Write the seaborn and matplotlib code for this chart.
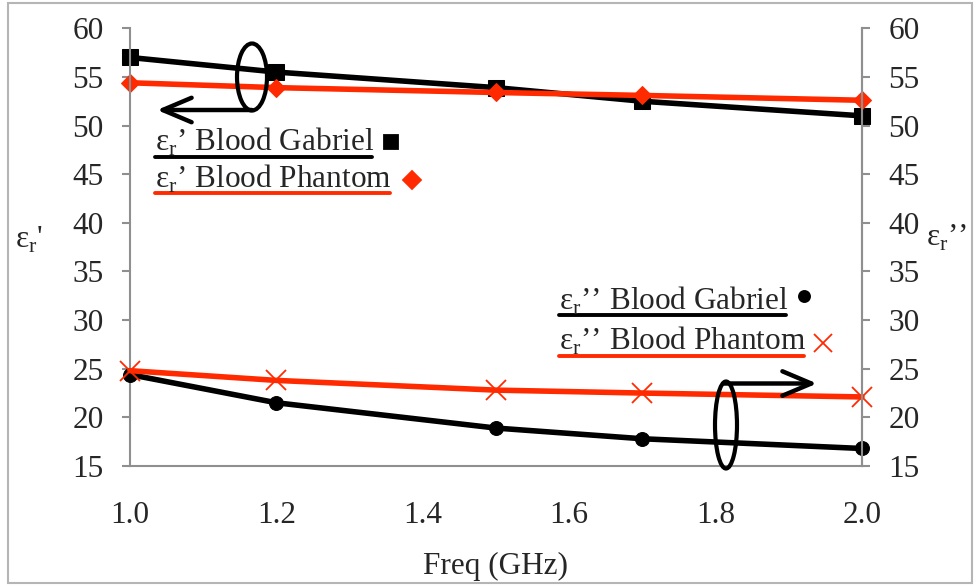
import numpy as np
import pandas as pd
import seaborn as sns
import matplotlib.pyplot as plt
from matplotlib.patches import Ellipse, Rectangle, ArrowStyle
from matplotlib.lines import Line2D

# data
freq = [1.0, 1.2, 1.5, 1.7, 2.0]
eps1_gabriel = [57.0, 55.5, 53.9, 52.5, 51.0]
eps1_phantom = [54.4, 53.9, 53.4, 53.1, 52.6]
eps2_gabriel = [24.4, 21.5, 18.9, 17.8, 16.8]
eps2_phantom = [24.8, 23.8, 22.8, 22.5, 22.1]
xticks = [1.0, 1.2, 1.4, 1.6, 1.8, 2.0]
yticks = [15, 20, 25, 30, 35, 40, 45, 50, 55, 60]

RED = '#ff2a00'
GREY = '#8f8f8f'
FS = 22.5

sns.set_style('white')
plt.rcParams['font.family'] = ['Liberation Serif', 'DejaVu Serif']
plt.rcParams['mathtext.fontset'] = 'custom'
plt.rcParams['mathtext.rm'] = 'Liberation Serif'

W, H = 978, 587
fig = plt.figure(figsize=(W / 100, H / 100), dpi=100)
ax = fig.add_axes([130 / W, 1 - 466 / H, 732 / W, 437.7 / H])
ax2 = ax.twinx()


def P(x, y):
    # pixel position -> figure fraction
    return (x / W, 1 - y / H)


sns.lineplot(x=freq, y=eps1_gabriel, ax=ax, color='black', lw=4, marker='s',
             markersize=11, markeredgecolor='black', sort=False, clip_on=False)
sns.lineplot(x=freq, y=eps1_phantom, ax=ax, color=RED, lw=4, marker='D',
             markersize=9, markeredgecolor=RED, sort=False, clip_on=False)
sns.lineplot(x=freq, y=eps2_gabriel, ax=ax2, color='black', lw=4, marker='o',
             markersize=10, markeredgecolor='black', sort=False, clip_on=False)
sns.lineplot(x=freq, y=eps2_phantom, ax=ax2, color=RED, lw=4, marker='x',
             markersize=14, markeredgewidth=1.3, markeredgecolor=RED, sort=False,
             clip_on=False)

for a in (ax, ax2):
    a.set_xlim(1.0, 2.0)
    a.set_ylim(15, 60)
    a.set_yticks(yticks)
    for s in a.spines.values():
        s.set_color(GREY)
        s.set_linewidth(1.5)
    a.spines['top'].set_visible(False)
    a.tick_params(axis='y', direction='out', length=6, width=1.5, color=GREY,
                  labelsize=FS, pad=13)
ax2.spines['left'].set_visible(False)
ax2.spines['bottom'].set_visible(False)
ax.set_xticks(xticks)
ax.set_xticklabels([f'{v:.1f}' for v in xticks])
ax.tick_params(axis='x', direction='out', length=6, width=1.5, color=GREY,
               labelsize=FS, pad=19)

ax.set_xlabel('Freq (GHz)', fontsize=FS, va='center')
ax.xaxis.set_label_coords(0.5, -(566 - 466) / 437.7)
ax.set_ylabel("ε$_\\mathregular{r}$'", fontsize=FS, rotation=0, va='center', ha='center')
ax.yaxis.set_label_coords((29 - 130) / 732, 1 - (240 - 28.3) / 437.7)
ax2.set_ylabel("ε$_\\mathregular{r}$’’", fontsize=FS, rotation=0, va='center', ha='center')
ax2.yaxis.set_label_coords((947 - 130) / 732, 1 - (238 - 28.3) / 437.7)

# text-box style legends with underlines
legend_items = [
    ("ε$_\\mathregular{r}$’ Blood Gabriel", 155, 151, 157, 372, 'black', 's', 391, 142, 10),
    ("ε$_\\mathregular{r}$’ Blood Phantom", 155, 188, 193, 390, RED, 'D', 412, 180, 9),
    ("ε$_\\mathregular{r}$’’ Blood Gabriel", 559, 310, 315, 786, 'black', 'o', 804, 296, 8),
    ("ε$_\\mathregular{r}$’’ Blood Phantom", 559, 350, 356, 804, RED, 'x', 823, 343, 13),
]
for txt, tx, ty, uy, ux1, col, mk, mx, my, ms in legend_items:
    fig.text(*P(tx, ty), txt, fontsize=FS, ha='left', va='baseline')
    fig.add_artist(Line2D([tx / W, ux1 / W], [1 - uy / H, 1 - uy / H],
                          color=col, lw=2.8, transform=fig.transFigure))
    fig.add_artist(Line2D([mx / W], [1 - my / H], marker=mk, markersize=ms,
                          color=col, markeredgecolor=col, markeredgewidth=1.3,
                          linestyle='none', transform=fig.transFigure))

# grouping ellipses and arrows
fig.add_artist(Ellipse(P(252, 77), 30 / W, 67 / H, transform=fig.transFigure,
                       fill=False, ec='black', lw=3))
fig.add_artist(Ellipse(P(726, 425), 22 / W, 87 / H, transform=fig.transFigure,
                       fill=False, ec='black', lw=3))
arr = ArrowStyle('->', head_length=1.3, head_width=0.55)
fig.add_artist(plt.Annotation('', xy=P(157, 110), xytext=P(252, 110),
                              xycoords='figure fraction', textcoords='figure fraction',
                              arrowprops=dict(arrowstyle=arr, lw=3.2, color='black',
                                              mutation_scale=16, shrinkA=0, shrinkB=0)))
fig.add_artist(plt.Annotation('', xy=P(817, 383.5), xytext=P(724, 383.5),
                              xycoords='figure fraction', textcoords='figure fraction',
                              arrowprops=dict(arrowstyle=arr, lw=3.2, color='black',
                                              mutation_scale=16, shrinkA=0, shrinkB=0)))

# outer frame
fig.patches.append(Rectangle((8 / W, 1 - 583 / H), 964 / W, 580 / H,
                             transform=fig.transFigure, fill=False, ec='#b5b5b5', lw=1.5))

fig.savefig('out.png', dpi=100)
